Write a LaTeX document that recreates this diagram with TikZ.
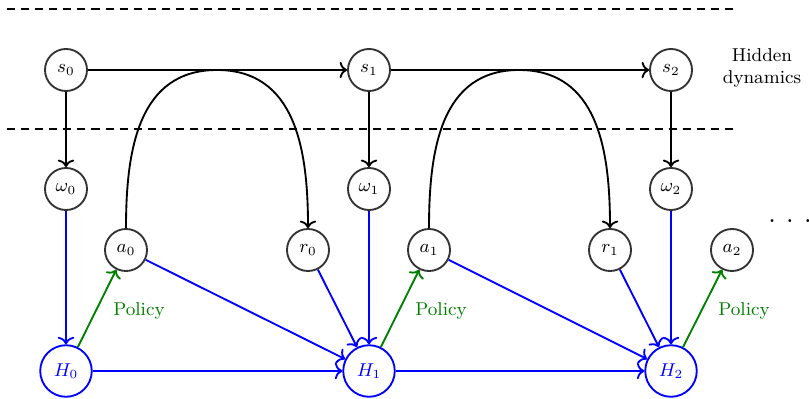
\documentclass[tikz,border=0pt]{standalone}
\usetikzlibrary{arrows.meta}
\begin{document}
\begin{tikzpicture}[x=0.4831pt,y=-0.4831pt,
  >={To[width=8pt,length=3.6pt]},
  every node/.style={font=\small},
  var/.style={circle,draw=black!80,line width=0.9pt,minimum size=20.3pt,inner sep=0pt},
  hid/.style={circle,draw=blue,line width=0.9pt,text=blue,minimum size=24.9pt,inner sep=0pt},
  blk/.style={->,line width=0.9pt,black},
  blu/.style={->,line width=0.9pt,blue},
  grn/.style={->,line width=0.9pt,green!50!black},
  sep/.style={line width=0.9pt,dash pattern=on 3.9pt off 2.9pt},
  lab/.style={text=green!50!black,font=\small}]
\useasboundingbox (0,0) rectangle (809,399);
% separators
\coordinate (d1l) at (7,9);   \coordinate (d1r) at (733,9);
\coordinate (d2l) at (7,129); \coordinate (d2r) at (733,129);
\draw[sep] (d1l) -- (d1r);
\draw[sep] (d2l) -- (d2r);
% nodes
\node[var] (s0) at (66,70) {$s_0$};
\node[var] (s1) at (369,70) {$s_1$};
\node[var] (s2) at (671,70) {$s_2$};
\node[var] (w0) at (66,189) {$\omega_0$};
\node[var] (w1) at (369,189) {$\omega_1$};
\node[var] (w2) at (671,189) {$\omega_2$};
\node[var] (a0) at (126,250) {$a_0$};
\node[var] (r0) at (308,250) {$r_0$};
\node[var] (a1) at (429,250) {$a_1$};
\node[var] (r1) at (610,250) {$r_1$};
\node[var] (a2) at (732,250) {$a_2$};
\node[hid] (H0) at (66,371) {$H_0$};
\node[hid] (H1) at (369,371) {$H_1$};
\node[hid] (H2) at (671,371) {$H_2$};
\node[align=center] (hd) at (762,68) {Hidden\\dynamics};
\node[anchor=base,font=\Large] (dots) at (790,223) {.\ .\ .};
\node[lab] (p0) at (139,311) {Policy};
\node[lab] (p1) at (441,311) {Policy};
\node[lab] (p2) at (744,311) {Policy};
% hidden dynamics
\draw[blk] (s0) -- (s1);
\draw[blk] (s1) -- (s2);
\draw[blk] (s0) -- (w0);
\draw[blk] (s1) -- (w1);
\draw[blk] (s2) -- (w2);
% arcs
\coordinate (t0) at (217,70);
\coordinate (t1) at (519,70);
\draw[blk] (a0.north) to[out=90,in=180,looseness=1.1] (t0) to[out=0,in=90,looseness=1.1] (r0.north);
\draw[blk] (a1.north) to[out=90,in=180,looseness=1.1] (t1) to[out=0,in=90,looseness=1.1] (r1.north);
% observations
\draw[blu] (w0) -- (H0);
\draw[blu] (w1) -- (H1);
\draw[blu] (w2) -- (H2);
\draw[blu] (H0) -- (H1);
\draw[blu] (H1) -- (H2);
\draw[blu] (a0) -- (H1);
\draw[blu] (r0) -- (H1);
\draw[blu] (a1) -- (H2);
\draw[blu] (r1) -- (H2);
% policy
\draw[grn] (H0) -- (a0);
\draw[grn] (H1) -- (a1);
\draw[grn] (H2) -- (a2);
\end{tikzpicture}
\end{document}
